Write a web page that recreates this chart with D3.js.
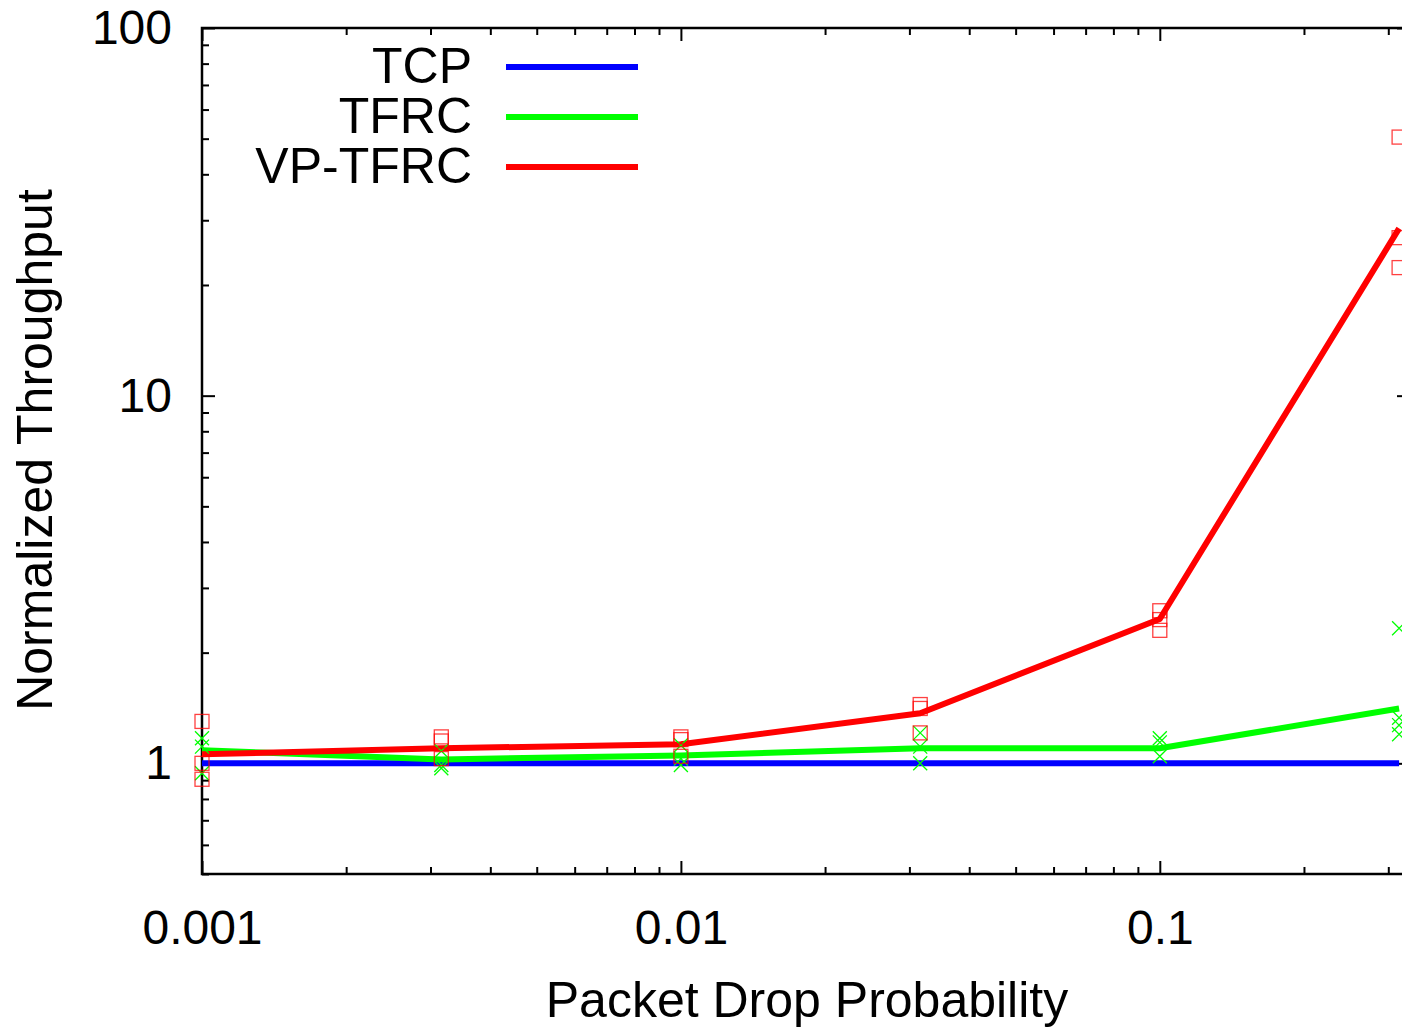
<!DOCTYPE html>
<html>
<head>
<meta charset="utf-8">
<script src="https://cdn.jsdelivr.net/npm/d3@7"></script>
<style>
    body { margin: 0; background: #fff; }
    text { font-family: "Liberation Sans", Arial, Helvetica, sans-serif; fill: #000; }
</style>
</head>
<body>
<script>
// drop probabilities on the x axis
var dropProb = [0.001, 0.00316, 0.01, 0.0316, 0.1, 0.316];

// averaged curves
var tcpLine = [1, 1, 1, 1, 1, 1];
var tfrcLine = [1.085, 1.025, 1.051, 1.099, 1.099, 1.41];
var vpLine = [1.058, 1.099, 1.127, 1.368, 2.47, 28.5];

// individual runs (one list per drop probability)
var tfrcRuns = [
    [1.17, 1.11, 0.94],
    [1.08, 0.99, 0.97],
    [1.12, 1.03, 0.99],
    [1.21, 1.11, 1.0],
    [1.17, 1.14, 1.045],
    [2.33, 1.33, 1.27, 1.2]
];
var vpRuns = [
    [1.3, 1.0, 0.905],
    [1.18, 1.15, 1.03],
    [1.18, 1.16, 1.045],
    [1.445, 1.41, 1.21],
    [2.6, 2.46, 2.3],
    [50.5, 26.9, 22.3]
];

var xMajor = [0.001, 0.01, 0.1];
var yMajor = [1, 10, 100];
var legendNames = ["TCP", "TFRC", "VP-TFRC"];
var colors = ["#0000ff", "#00ff00", "#ff0000"];

var width = 1402, height = 1029;
// the right border sits just past the picture's edge
var plotLeft = 202, plotRight = 1410, plotTop = 28, plotBottom = 874;

var svg = d3.select("body").append("svg")
    .attr("width", width)
    .attr("height", height);

svg.append("rect").attr("width", width).attr("height", height).attr("fill", "#fff");

var x = d3.scaleLog().domain([0.001, 0.333]).range([plotLeft, plotRight]);
var y = d3.scaleLog().domain([0.5, 100]).range([plotBottom, plotTop]);

var xMinor = x.ticks().filter(function (d) { return xMajor.indexOf(d) < 0; });
var yMinor = y.ticks().filter(function (d) { return yMajor.indexOf(d) < 0; });

//Draw the axes (ticks pointing inward, gnuplot style)
function drawAxis(axis, tx, ty, values, size, labels, padding) {
    var g = svg.append("g")
        .attr("transform", "translate(" + tx + "," + ty + ")")
        .call(axis.tickValues(values)
            .tickSize(-size)
            .tickPadding(padding || 0)
            .tickFormat(labels ? d3.format("") : ""));
    g.select(".domain").remove();
    g.selectAll(".tick line").attr("stroke", "#000").attr("stroke-width", 2);
    g.selectAll(".tick text").style("font-size", "48px").attr("fill", "#000");
    return g;
}

drawAxis(d3.axisBottom(x), 0, plotBottom, xMajor, 13, true, 36);
drawAxis(d3.axisBottom(x), 0, plotBottom, xMinor, 7);
drawAxis(d3.axisTop(x), 0, plotTop, xMajor, 13);
drawAxis(d3.axisTop(x), 0, plotTop, xMinor, 7);
drawAxis(d3.axisLeft(y), plotLeft, 0, yMajor, 13, true, 30);
drawAxis(d3.axisLeft(y), plotLeft, 0, yMinor, 7);
drawAxis(d3.axisRight(y), plotRight, 0, yMajor, 13);
drawAxis(d3.axisRight(y), plotRight, 0, yMinor, 7);

//Plot frame
svg.append("rect")
    .attr("x", plotLeft).attr("y", plotTop)
    .attr("width", plotRight - plotLeft).attr("height", plotBottom - plotTop)
    .attr("fill", "none").attr("stroke", "#000").attr("stroke-width", 2.5);

//Lines
var line = d3.line()
    .x(function (d, i) { return x(dropProb[i]); })
    .y(function (d) { return y(d); });

[tcpLine, tfrcLine, vpLine].forEach(function (s, i) {
    svg.append("path")
        .attr("d", line(s))
        .attr("fill", "none")
        .attr("stroke", colors[i])
        .attr("stroke-width", 6)
        .attr("stroke-linejoin", "round");
});

//Run markers: crosses for TFRC, squares for VP-TFRC
var m = 7;
tfrcRuns.forEach(function (runs, i) {
    runs.forEach(function (v) {
        var cx = x(dropProb[i]), cy = y(v);
        svg.append("path")
            .attr("d", "M" + (cx - m) + "," + (cy - m) + "L" + (cx + m) + "," + (cy + m) +
                "M" + (cx - m) + "," + (cy + m) + "L" + (cx + m) + "," + (cy - m))
            .attr("stroke", colors[1]).attr("stroke-width", 1.3).attr("fill", "none");
    });
});
vpRuns.forEach(function (runs, i) {
    runs.forEach(function (v) {
        svg.append("rect")
            .attr("x", x(dropProb[i]) - m).attr("y", y(v) - m)
            .attr("width", 2 * m).attr("height", 2 * m)
            .attr("fill", "none").attr("stroke", colors[2])
            .attr("stroke-width", 1.3).attr("stroke-opacity", 0.75);
    });
});

//Legend
legendNames.forEach(function (name, i) {
    svg.append("text")
        .attr("x", 472).attr("y", 83 + i * 50)
        .attr("text-anchor", "end")
        .style("font-size", "50px")
        .text(name);
    svg.append("line")
        .attr("x1", 506).attr("x2", 638)
        .attr("y1", 67 + i * 50).attr("y2", 67 + i * 50)
        .attr("stroke", colors[i]).attr("stroke-width", 6);
});

//Axis titles
svg.append("text")
    .attr("x", 807).attr("y", 1017)
    .attr("text-anchor", "middle")
    .style("font-size", "50px")
    .text("Packet Drop Probability");

svg.append("text")
    .attr("transform", "translate(52,450) rotate(-90)")
    .attr("text-anchor", "middle")
    .style("font-size", "50px")
    .text("Normalized Throughput");
</script>
</body>
</html>
